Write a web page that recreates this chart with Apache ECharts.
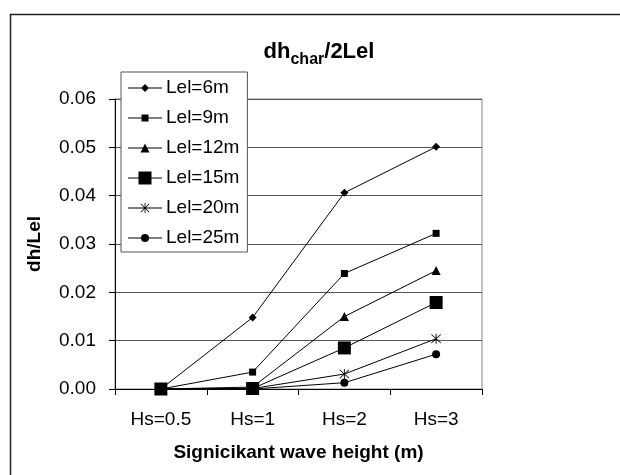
<!DOCTYPE html>
<html><head><meta charset="utf-8">
<script src="https://cdn.jsdelivr.net/npm/echarts@6/dist/echarts.min.js"></script>
<style>html,body{margin:0;padding:0;background:#fff}#c{width:620px;height:475px}</style>
</head><body><div id="c"></div>
<script>
var categories = ['Hs=0.5','Hs=1','Hs=2','Hs=3'];
var seriesNames = ['Lel=6m','Lel=9m','Lel=12m','Lel=15m','Lel=20m','Lel=25m'];
var lel6  = [0, 0.0148, 0.0406, 0.0501];
var lel9  = [0, 0.0035, 0.0239, 0.0322];
var lel12 = [0, 0.0004, 0.0150, 0.0245];
var lel15 = [0, 0.0001, 0.0085, 0.0179];
var lel20 = [0, 0.0001, 0.0031, 0.0104];
var lel25 = [0, 0.0000, 0.0013, 0.0072];

var star = 'path://M9.2,0 H10.8 V20 H9.2 Z M1.1,2.2 L2.2,1.1 L18.9,17.8 L17.8,18.9 Z M17.8,1.1 L18.9,2.2 L2.2,18.9 L1.1,17.8 Z';
var values = [lel6, lel9, lel12, lel15, lel20, lel25];
var symbols = ['diamond','rect','triangle','rect',star,'circle'];
var sizes = [8, 7, 9, 13, 10, 8];

// legend icons: line + marker of the same size as in the plot, in a 34x14 box
var IW = 34, IH = 14, cx = 17, cy = 7;
function corners(){ return 'M0,0 L0.01,0 L0,0.01 Z M34,14 L33.99,14 L34,13.99 Z '; }
function lineP(){ return 'M0,6.5 H34 V7.5 H0 Z '; }
function markerPath(kind, s){
  var h = s/2;
  if (kind === 'diamond') return 'M'+cx+','+(cy-h)+' L'+(cx+h)+','+cy+' L'+cx+','+(cy+h)+' L'+(cx-h)+','+cy+' Z';
  if (kind === 'rect') return 'M'+(cx-h)+','+(cy-h)+' L'+(cx+h)+','+(cy-h)+' L'+(cx+h)+','+(cy+h)+' L'+(cx-h)+','+(cy+h)+' Z';
  if (kind === 'triangle') return 'M'+cx+','+(cy-h)+' L'+(cx+h)+','+(cy+h)+' L'+(cx-h)+','+(cy+h)+' Z';
  if (kind === 'circle') return 'M'+(cx-h)+','+cy+' A'+h+','+h+' 0 1 1 '+(cx+h)+','+cy+' A'+h+','+h+' 0 1 1 '+(cx-h)+','+cy+' Z';
  // star
  var k = s/20, x0 = cx-h, y0 = cy-h;
  function p(x,y){ return (x0+x*k).toFixed(2)+','+(y0+y*k).toFixed(2); }
  return 'M'+p(9.2,0)+' L'+p(10.8,0)+' L'+p(10.8,20)+' L'+p(9.2,20)+' Z '+
         'M'+p(1.1,2.2)+' L'+p(2.2,1.1)+' L'+p(18.9,17.8)+' L'+p(17.8,18.9)+' Z '+
         'M'+p(17.8,1.1)+' L'+p(18.9,2.2)+' L'+p(2.2,18.9)+' L'+p(1.1,17.8)+' Z';
}
var kinds = ['diamond','rect','triangle','rect','star','circle'];
var legendData = seriesNames.map(function(n, i){
  return {name: n, icon: 'path://' + corners() + lineP() + markerPath(kinds[i], sizes[i])};
});

var chart = echarts.init(document.getElementById('c'), null, {renderer:'canvas'});
var font = 'Liberation Sans, Arial, sans-serif';
chart.setOption({
  animation: false,
  backgroundColor: '#fff',
  title: {
    text: '{a|dh}{b|char}{a|/2Lel}',
    left: 314, top: 34, textAlign: 'center',
    textStyle: { rich: {
      a: {fontFamily: font, fontWeight: 'bold', fontSize: 22, color: '#000', verticalAlign: 'bottom', lineHeight: 24},
      b: {fontFamily: font, fontWeight: 'bold', fontSize: 16, color: '#000', verticalAlign: 'bottom', lineHeight: 24, padding: [0,0,-5,0]}
    }}
  },
  graphic: [{
    type: 'rect', left: 8, top: 12, silent: true, z: -1,
    shape: {x: 0, y: 0, width: 700, height: 600},
    style: {fill: 'none', stroke: '#222', lineWidth: 1.5}
  }],
  legend: {
    orient: 'vertical', left: 121, top: 72,
    data: legendData,
    backgroundColor: '#fff', borderColor: '#555', borderWidth: 1,
    padding: [6, 8, 4, 7], itemGap: 10, itemWidth: IW, itemHeight: IH,
    symbolKeepAspect: false,
    itemStyle: {color: '#000', borderWidth: 0},
    textStyle: {fontFamily: font, fontSize: 19, color: '#000', lineHeight: 20, padding: [0,0,0,-1]},
    z: 10
  },
  grid: {left: 115, right: 138, top: 99, bottom: 86, show: true, borderColor: '#888', borderWidth: 1, backgroundColor: '#fff'},
  xAxis: {
    type: 'category', data: categories, boundaryGap: true,
    axisLine: {lineStyle: {color: '#000', width: 1}},
    axisTick: {show: true, inside: false, length: 6, alignWithLabel: false, lineStyle: {color: '#000'}},
    axisLabel: {fontFamily: font, fontSize: 19, color: '#000', margin: 21},
    name: 'Signicikant wave height (m)', nameLocation: 'middle', nameGap: 54,
    nameTextStyle: {fontFamily: font, fontSize: 19, fontWeight: 'bold', color: '#000'}
  },
  yAxis: {
    type: 'value', min: 0, max: 0.06, interval: 0.01,
    axisLine: {show: true, lineStyle: {color: '#000', width: 1}},
    axisTick: {show: true, length: 6, lineStyle: {color: '#000'}},
    axisLabel: {fontFamily: font, fontSize: 19, color: '#000', margin: 19,
      formatter: function(v){ return v.toFixed(2); }},
    splitLine: {show: true, lineStyle: {color: '#555', width: 1}},
    name: 'dh/Lel', nameLocation: 'middle', nameGap: 71, nameRotate: 90,
    nameTextStyle: {fontFamily: font, fontSize: 19, fontWeight: 'bold', color: '#000'}
  },
  series: seriesNames.map(function(n, i){
    return {
      name: n, type: 'line', data: values[i],
      symbol: symbols[i], symbolSize: sizes[i], showAllSymbol: true,
      lineStyle: {color: '#000', width: 1},
      itemStyle: {color: '#000'},
      z: 3
    };
  })
});
</script></body></html>
